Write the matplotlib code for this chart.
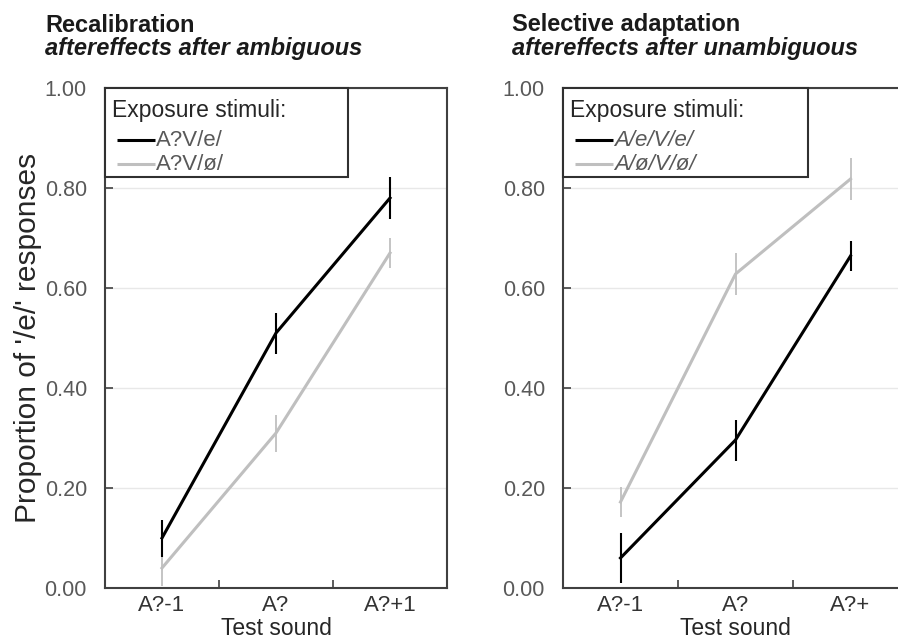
import matplotlib
matplotlib.use("Agg")
import matplotlib.pyplot as plt
from matplotlib.patches import Rectangle
import numpy as np

plt.rcParams['font.family'] = ['Liberation Sans', 'DejaVu Sans']

categories_left = ["A?-1", "A?", "A?+1"]
categories_right = ["A?-1", "A?", "A?+"]
yticks = [0.0, 0.2, 0.4, 0.6, 0.8, 1.0]

# Left panel: Recalibration
left_black = [0.10, 0.51, 0.78]
left_black_err = [0.037, 0.041, 0.041]
left_gray = [0.04, 0.31, 0.67]
left_gray_err = [0.035, 0.037, 0.03]
left_labels = ["A?V/e/", "A?V/ø/"]

# Right panel: Selective adaptation
right_black = [0.06, 0.296, 0.664]
right_black_err = [0.05, 0.041, 0.03]
right_gray = [0.172, 0.628, 0.818]
right_gray_err = [0.03, 0.042, 0.042]
right_labels = ["A/e/V/e/", "A/ø/V/ø/"]

BLACK = "#000000"
GRAY = "#bfbfbf"
TICKC = "#595959"
SPINE = "#404040"

W, H = 898, 643
fig = plt.figure(figsize=(W/100, H/100), dpi=100)
# axes in pixel geometry: (left, width)
geomL = (105, 342)
geomR = (563, 345)
TOP, BOT = 88, 588
axL = fig.add_axes([geomL[0]/W, 1-BOT/H, geomL[1]/W, (BOT-TOP)/H])
axR = fig.add_axes([geomR[0]/W, 1-BOT/H, geomR[1]/W, (BOT-TOP)/H])


def style(ax, cats, show_ylabel):
    x = np.arange(len(cats))
    ax.set_xlim(-0.5, len(cats) - 0.5)
    ax.set_ylim(0, 1)
    ax.set_yticks(yticks)
    ax.set_yticklabels([f"{v:.2f}" for v in yticks])
    ax.set_xticks(x)
    ax.set_xticklabels(cats)
    ax.set_xticks(x[:-1] + 0.5, minor=True)
    ax.tick_params(axis='x', which='major', length=0, pad=5, labelsize=16, labelcolor="#333333")
    ax.tick_params(axis='x', which='minor', direction='in', length=6, width=1.2, color=SPINE)
    ax.tick_params(axis='y', direction='in', length=6, width=1.2, color=SPINE, pad=13,
                   labelsize=15.5, labelcolor=TICKC)
    for s in ax.spines.values():
        s.set_color(SPINE)
        s.set_linewidth(1.5)
    ax.grid(axis='y', color="#e8e8e8", linewidth=1.0)
    ax.set_axisbelow(True)
    ax.set_xlabel("Test sound", fontsize=16.5, color="#262626", labelpad=0.5)
    if show_ylabel:
        ax.set_ylabel("Proportion of '/e/' responses", fontsize=21.5, color="#262626", labelpad=2)


def draw(ax, geom, black, black_err, gray, gray_err, labels, italic, title1, title2, tx):
    x0, w = geom
    x = np.arange(len(black))
    ax.errorbar(x, gray, yerr=gray_err, color=GRAY, lw=2.2, elinewidth=1.3, capsize=0, zorder=3)
    ax.errorbar(x, black, yerr=black_err, color=BLACK, lw=2.2, elinewidth=1.5, capsize=0, zorder=4)

    def ax_x(px):
        return (px - x0) / w

    def ax_y(py):
        return (BOT - py) / (BOT - TOP)

    # legend box
    box_right = 243 if x0 == 105 else 245
    ax.add_patch(Rectangle((0, ax_y(177)), box_right / w, 1 - ax_y(177),
                           transform=ax.transAxes, facecolor='white', edgecolor="#303030",
                           lw=1.5, zorder=5, clip_on=False))
    ax.text(ax_x(x0 + 7), ax_y(111), "Exposure stimuli:", transform=ax.transAxes,
            fontsize=16.5, color="#262626", va='center', ha='left', zorder=6)
    for lab, col, py in [(labels[0], BLACK, 140), (labels[1], GRAY, 164)]:
        ax.plot([ax_x(x0 + 12), ax_x(x0 + 50)], [ax_y(py), ax_y(py)], color=col, lw=2.2,
                transform=ax.transAxes, zorder=6, solid_capstyle='butt')
        ax.text(ax_x(x0 + 51), ax_y(py + 1), lab, transform=ax.transAxes, fontsize=16,
                color=TICKC, va='center', ha='left', zorder=6,
                style='italic' if italic else 'normal')

    fig.text(tx, 1-25/H, title1, fontsize=17, fontweight='bold', color="#1a1a1a", va='center')
    fig.text(tx, 1-49/H, title2, fontsize=17, fontweight='bold', style='italic',
             color="#1a1a1a", va='center')


style(axL, categories_left, True)
style(axR, categories_right, False)
draw(axL, geomL, left_black, left_black_err, left_gray, left_gray_err, left_labels, False,
     "Recalibration", "aftereffects after ambiguous", 45/W)
draw(axR, geomR, right_black, right_black_err, right_gray, right_gray_err, right_labels, True,
     "Selective adaptation", "aftereffects after unambiguous", 512/W)

fig.savefig("out.png", dpi=100)
